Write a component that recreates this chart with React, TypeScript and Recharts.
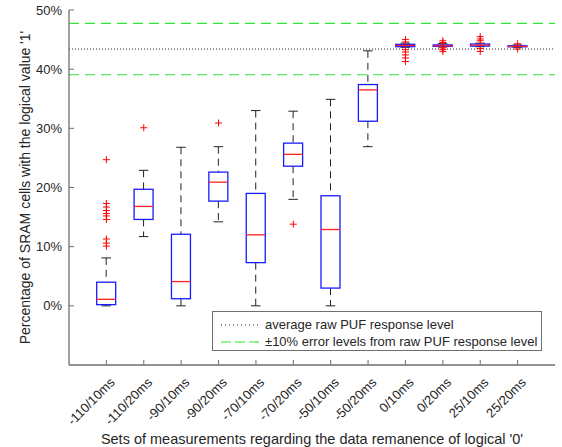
import React from 'react';
import {
  ComposedChart,
  Bar,
  Scatter,
  XAxis,
  YAxis,
  ReferenceLine,
  Label,
} from 'recharts';

const categories = [
  '-110/10ms', '-110/20ms', '-90/10ms', '-90/20ms', '-70/10ms', '-70/20ms',
  '-50/10ms', '-50/20ms', '0/10ms', '0/20ms', '25/10ms', '25/20ms',
];
// box statistics in percent
const whiskerLow = [0, 11.7, 0, 14.2, 0, 18.0, 0, 26.9, 43.7, 43.75, 43.8, 43.7];
const q1 = [0.2, 14.6, 1.2, 17.7, 7.3, 23.6, 3.0, 31.2, 43.8, 43.85, 43.9, 43.8];
const median = [1.1, 16.8, 4.1, 20.9, 12.0, 25.6, 12.9, 36.5, 44.0, 43.95, 44.05, 43.85];
const q3 = [4.0, 19.7, 12.1, 22.6, 19.0, 27.5, 18.6, 37.4, 44.2, 44.1, 44.25, 43.95];
const whiskerHigh = [8.1, 22.9, 26.8, 26.9, 33.0, 32.9, 34.9, 43.1, 44.4, 44.3, 44.4, 44.1];
const outliers = [
  [24.7, 17.3, 16.7, 16.1, 15.6, 15.2, 14.6, 11.3, 10.6, 10.1],
  [30.1],
  [],
  [30.9],
  [],
  [13.8],
  [],
  [],
  [45.0, 44.6, 43.3, 42.9, 42.4, 41.9, 41.3],
  [44.8, 44.5, 43.6, 43.3, 43.0],
  [45.5, 45.1, 44.8, 43.5, 43.0],
  [44.3, 43.4],
];
const rawPufLevel = 43.4;
const errorLow = 39.06;
const errorHigh = 47.74;
const yTicks = [0, 10, 20, 30, 40, 50];
const xTicks = categories.map((_, i) => i + 1);

const boxData = categories.map((name, i) => ({
  x: i + 1,
  name,
  range: [whiskerLow[i], whiskerHigh[i]],
  lo: whiskerLow[i],
  q1: q1[i],
  med: median[i],
  q3: q3[i],
  hi: whiskerHigh[i],
}));

const outlierData = outliers.flatMap((vals, i) => vals.map((v) => ({ x: i + 1, y: v })));

const FONT = '"Liberation Sans", Arial, Helvetica, sans-serif';
const TEXT = '#262626';
const AXIS = '#6f6f6f';

const BoxShape = (props: any) => {
  const { x, width, payload } = props;
  const top = Math.min(props.y, props.y + props.height);
  const bottom = Math.max(props.y, props.y + props.height);
  const px = (bottom - top) / (payload.hi - payload.lo);
  const toY = (v: number) => top + (payload.hi - v) * px;
  const cx = x + width / 2;
  const cap = width / 4;
  return (
    <g>
      <line x1={cx} x2={cx} y1={toY(payload.hi)} y2={toY(payload.q3)} stroke="#222" strokeDasharray="7 5" />
      <line x1={cx} x2={cx} y1={toY(payload.q1)} y2={toY(payload.lo)} stroke="#222" strokeDasharray="7 5" />
      <line x1={cx - cap} x2={cx + cap} y1={toY(payload.hi)} y2={toY(payload.hi)} stroke="#222" />
      <line x1={cx - cap} x2={cx + cap} y1={toY(payload.lo)} y2={toY(payload.lo)} stroke="#222" />
      <rect
        x={x}
        y={toY(payload.q3)}
        width={width}
        height={Math.max(toY(payload.q1) - toY(payload.q3), 1)}
        fill="none"
        stroke="#1a1aff"
        strokeWidth={1.3}
      />
      <line x1={x} x2={x + width} y1={toY(payload.med)} y2={toY(payload.med)} stroke="#ff2020" strokeWidth={1.3} />
    </g>
  );
};

const PlusShape = (props: any) => {
  const { cx, cy } = props;
  return (
    <g>
      <line x1={cx - 3.5} x2={cx + 3.5} y1={cy} y2={cy} stroke="#ff0000" />
      <line x1={cx} x2={cx} y1={cy - 3.5} y2={cy + 3.5} stroke="#ff0000" />
    </g>
  );
};

const BottomTick = (props: any) => {
  const { x, y, payload } = props;
  return (
    <g>
      <line x1={x} x2={x} y1={y} y2={y - 5} stroke={AXIS} />
      <text
        x={x + 6}
        y={y + 15}
        textAnchor="end"
        dy="0.35em"
        transform={`rotate(-45 ${x + 6} ${y + 15})`}
        fontSize={13}
        fill={TEXT}
        fontFamily={FONT}
      >
        {categories[payload.value - 1]}
      </text>
    </g>
  );
};

const TopTick = (props: any) => {
  const { x, y } = props;
  return <line x1={x} x2={x} y1={y} y2={y + 5} stroke={AXIS} />;
};

const LeftTick = (props: any) => {
  const { x, y, payload } = props;
  return (
    <g>
      <line x1={x} x2={x + 5} y1={y} y2={y} stroke={AXIS} />
      <text x={x - 7} y={y} dy="0.35em" textAnchor="end" fontSize={13} fill={TEXT} fontFamily={FONT}>
        {`${payload.value}%`}
      </text>
    </g>
  );
};

const RightTick = (props: any) => {
  const { x, y } = props;
  return <line x1={x} x2={x - 5} y1={y} y2={y} stroke={AXIS} />;
};

const App: React.FC = () => {
  return (
    <div style={{ position: 'absolute', left: 0, top: 0, width: 562, height: 447, background: '#fff', fontFamily: FONT }}>
      <ComposedChart
        width={562}
        height={447}
        data={boxData}
        margin={{ top: 10, right: 7, left: 0, bottom: 0 }}
      >
        <XAxis
          dataKey="x"
          type="number"
          domain={[0, 13]}
          ticks={xTicks}
          allowDataOverflow
          height={82}
          tickSize={0}
          tickMargin={0}
          tick={<BottomTick />}
          interval={0}
          stroke={AXIS}
          strokeWidth={1.3}
        >
          <Label
            value="Sets of measurements regarding the data remanence of logical '0'"
            position="insideBottom"
            offset={3}
            fontSize={14.5}
            fill={TEXT}
            fontFamily={FONT}
          />
        </XAxis>
        <XAxis
          xAxisId="top"
          orientation="top"
          type="number"
          domain={[0, 13]}
          ticks={xTicks}
          allowDataOverflow
          height={0}
          tickSize={0}
          tickMargin={0}
          tick={<TopTick />}
          interval={0}
          stroke={AXIS}
          strokeWidth={1.3}
        />
        <YAxis
          type="number"
          domain={[-10, 50]}
          ticks={yTicks}
          allowDataOverflow
          width={69}
          tickSize={0}
          tickMargin={0}
          tick={<LeftTick />}
          interval={0}
          stroke={AXIS}
          strokeWidth={1.3}
        >
          <Label
            content={(p: any) => {
              const vb = p.viewBox;
              const cx = vb.x + 25;
              const cy = vb.y + vb.height / 2;
              return (
                <text
                  x={cx}
                  y={cy}
                  textAnchor="middle"
                  dy="0.35em"
                  transform={`rotate(-90 ${cx} ${cy})`}
                  fontSize={14}
                  fill={TEXT}
                  fontFamily={FONT}
                >
                  Percentage of SRAM cells with the logical value '1'
                </text>
              );
            }}
          />
        </YAxis>
        <YAxis
          yAxisId="right"
          orientation="right"
          type="number"
          domain={[-10, 50]}
          ticks={yTicks}
          allowDataOverflow
          width={0}
          tickSize={0}
          tickMargin={0}
          tick={<RightTick />}
          interval={0}
          stroke={AXIS}
          strokeWidth={1.3}
        />
        <ReferenceLine y={errorHigh} stroke="#33e633" strokeWidth={1.2} strokeDasharray="10 6" />
        <ReferenceLine y={errorLow} stroke="#33e633" strokeWidth={1.2} strokeDasharray="10 6" />
        <ReferenceLine y={rawPufLevel} stroke="#222" strokeDasharray="1 2" />
        <Bar dataKey="range" barSize={19} shape={<BoxShape />} isAnimationActive={false} />
        <Scatter data={outlierData} dataKey="y" shape={<PlusShape />} isAnimationActive={false} />
      </ComposedChart>
      <div
        style={{
          position: 'absolute',
          left: 212,
          top: 311,
          width: 328,
          height: 38,
          border: `1px solid ${AXIS}`,
          background: '#fff',
          fontSize: 13,
          color: TEXT,
          boxSizing: 'content-box',
        }}
      >
        <div style={{ display: 'flex', alignItems: 'center', height: 17, marginTop: 4 }}>
          <svg width={52} height={10}>
            <line x1={8} x2={46} y1={5} y2={5} stroke="#222" strokeDasharray="1 3" />
          </svg>
          <span>average raw PUF response level</span>
        </div>
        <div style={{ display: 'flex', alignItems: 'center', height: 17 }}>
          <svg width={52} height={10}>
            <line x1={8} x2={46} y1={5} y2={5} stroke="#33e633" strokeWidth={1.2} strokeDasharray="10 4" />
          </svg>
          <span>±10% error levels from raw PUF response level</span>
        </div>
      </div>
    </div>
  );
};

export default App;
